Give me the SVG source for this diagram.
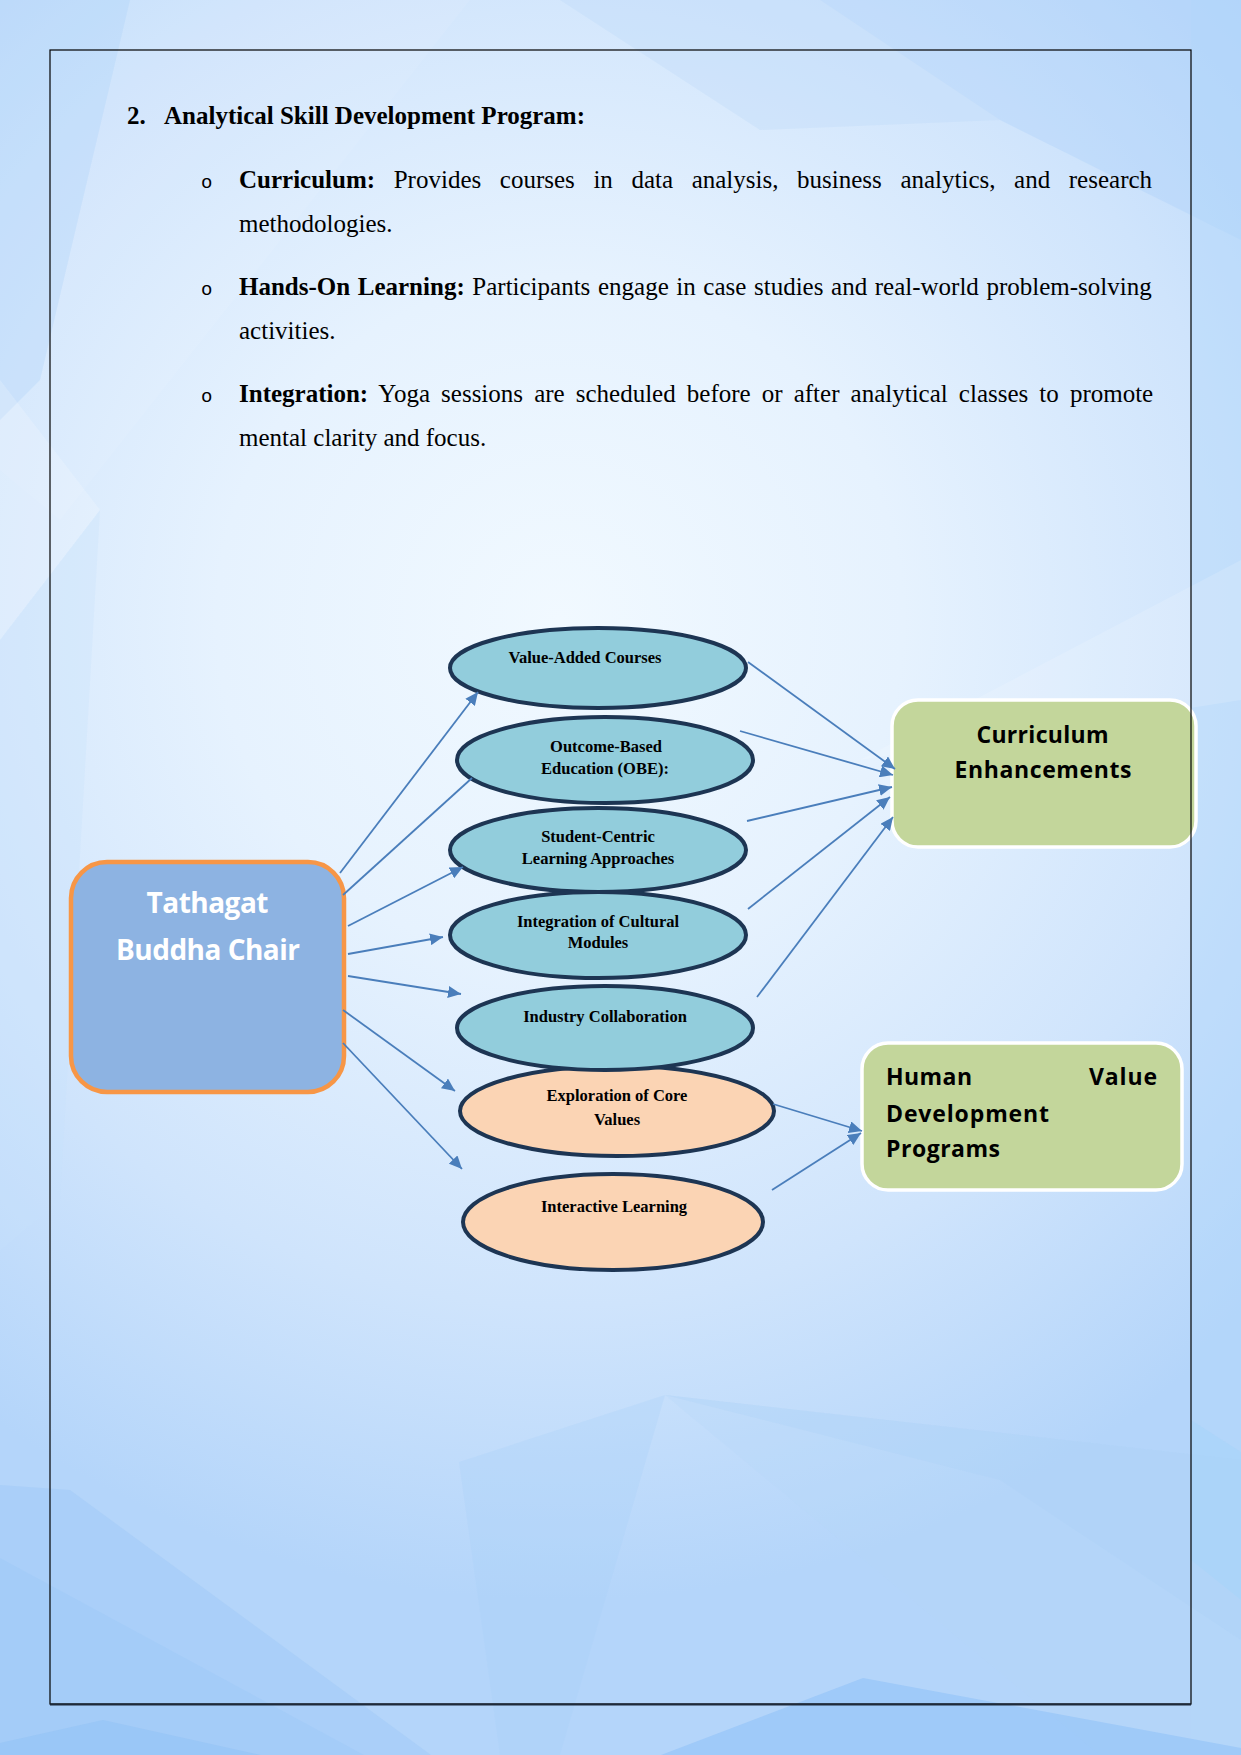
<svg xmlns="http://www.w3.org/2000/svg" width="1241" height="1755" viewBox="0 0 1241 1755">
  <defs>
    <radialGradient id="bgGlow" cx="560" cy="620" r="980" gradientUnits="userSpaceOnUse">
      <stop offset="0" stop-color="#F1F9FF"/>
      <stop offset="0.35" stop-color="#E6F2FE"/>
      <stop offset="0.7" stop-color="#CFE4FC"/>
      <stop offset="1" stop-color="#B4D5FA"/>
    </radialGradient>
    <marker id="arrow" markerUnits="userSpaceOnUse" markerWidth="14" markerHeight="12" refX="13" refY="6" orient="auto">
      <path d="M0,0 L13,6 L0,12 Z" fill="#4A7EBB"/>
    </marker>
    <style>
      .body { font-family: "Liberation Serif", "Times New Roman", serif; font-size: 25px; fill: #000; }
      .b { font-weight: bold; }
      .bullet { font-family: "Liberation Mono", "Courier New", monospace; font-size: 19px; fill: #000; }
      .ell-blue { fill: #92CDDC; stroke: #1D3553; stroke-width: 4; }
      .ell-peach { fill: #FBD4B4; stroke: #1D3553; stroke-width: 4; }
      .etext { font-family: "Liberation Serif", "Times New Roman", serif; font-weight: bold; font-size: 16.5px; fill: #000; text-anchor: middle; }
      .green { fill: #C3D69B; stroke: #FFFFFF; stroke-width: 3.5; }
      .gtext { font-family: "Open Sans", "Noto Sans", sans-serif; font-weight: bold; font-size: 23px; fill: #000; }
      .conn { stroke: #4A7EBB; stroke-width: 1.8; fill: none; }
    </style>
  </defs>

  <!-- background -->
  <rect x="0" y="0" width="1241" height="1755" fill="url(#bgGlow)"/>
  <g id="facets" stroke="none">
    <polygon points="0,0 470,0 60,520 0,470" fill="#FFFFFF" opacity="0.07"/>
    <polygon points="0,0 130,0 40,380 0,420" fill="#A9CFF8" opacity="0.3"/>
    <polygon points="820,0 1241,0 1241,240 1000,120" fill="#A9CFF8" opacity="0.35"/>
    <polygon points="560,0 820,0 1000,120 760,130" fill="#B9D8FA" opacity="0.3"/>
    <polygon points="1191,0 1241,0 1241,1755 1191,1755" fill="#B2D8FA" opacity="0.45"/>
    <polygon points="1241,560 860,760 1241,700" fill="#FFFFFF" opacity="0.15"/>
    <polygon points="0,380 100,510 0,640" fill="#FFFFFF" opacity="0.18"/>
    <polygon points="0,640 100,510 60,1200 0,1250" fill="#C7E0FB" opacity="0.3"/>
    <polygon points="665,1395 459,1462 500,1755 560,1755" fill="#A9CFF8" opacity="0.3"/>
    <polygon points="665,1395 1241,1460 1241,1755 1100,1755" fill="#B5D7FA" opacity="0.3"/>
    <polygon points="665,1395 1000,1480 1241,1640 1241,1460" fill="#A9D0F8" opacity="0.25"/>
    <polygon points="0,1485 70,1490 431,1755 0,1755" fill="#9FCAF7" opacity="0.5"/>
    <polygon points="0,1558 364,1755 0,1755" fill="#9AC7F7" opacity="0.4"/>
    <polygon points="103,1720 0,1743 0,1755 261,1755" fill="#8FC2F6" opacity="0.5"/>
    <polygon points="863,1678 1241,1748 1241,1755 661,1755" fill="#96C4F8" opacity="0.7"/>
    <polygon points="1191,1420 1241,1452 1241,1600 1191,1560" fill="#A6D4FA" opacity="0.5"/>
  </g>

  <!-- text -->
  <g id="text">
    <text class="body b" x="127" y="124">2.</text>
    <text class="body b" x="164" y="124">Analytical Skill Development Program:</text>

    <text class="bullet" x="201" y="188">o</text>
    <text class="body" x="239" y="188" word-spacing="12.35"><tspan class="b">Curriculum:</tspan> Provides courses in data analysis, business analytics, and research</text>
    <text class="body" x="239" y="231.5">methodologies.</text>

    <text class="bullet" x="201" y="295">o</text>
    <text class="body" x="239" y="295" word-spacing="1.35"><tspan class="b">Hands-On Learning:</tspan> Participants engage in case studies and real-world problem-solving</text>
    <text class="body" x="239" y="338.5">activities.</text>

    <text class="bullet" x="201" y="402">o</text>
    <text class="body" x="239" y="402" word-spacing="4.85"><tspan class="b">Integration:</tspan> Yoga sessions are scheduled before or after analytical classes to promote</text>
    <text class="body" x="239" y="445.5">mental clarity and focus.</text>
  </g>

  <!-- nodes -->
  <g id="node-tathagat">
    <rect x="71" y="862" width="273" height="230" rx="36" ry="36" fill="#8DB3E2" stroke="#F79646" stroke-width="4.5"/>
    <text x="207.5" y="913" font-family="Open Sans, Noto Sans, sans-serif" font-weight="bold" font-size="28" fill="#FFFFFF" text-anchor="middle" textLength="122" lengthAdjust="spacing">Tathagat</text>
    <text x="208" y="960" font-family="Open Sans, Noto Sans, sans-serif" font-weight="bold" font-size="28" fill="#FFFFFF" text-anchor="middle" textLength="184" lengthAdjust="spacing">Buddha Chair</text>
  </g>

  <g id="node-value-added">
    <ellipse class="ell-blue" cx="598" cy="668" rx="148" ry="40"/>
    <text class="etext" x="585" y="663">Value-Added Courses</text>
  </g>
  <g id="node-obe">
    <ellipse class="ell-blue" cx="605" cy="760" rx="148" ry="43"/>
    <text class="etext" x="606" y="752">Outcome-Based</text>
    <text class="etext" x="605" y="774">Education (OBE):</text>
  </g>
  <g id="node-student-centric">
    <ellipse class="ell-blue" cx="598" cy="850" rx="148" ry="42"/>
    <text class="etext" x="598" y="842">Student-Centric</text>
    <text class="etext" x="598" y="864">Learning Approaches</text>
  </g>
  <g id="node-cultural">
    <ellipse class="ell-blue" cx="598" cy="935" rx="148" ry="43"/>
    <text class="etext" x="598" y="927">Integration of Cultural</text>
    <text class="etext" x="598" y="948">Modules</text>
  </g>
  <g id="node-interactive">
    <ellipse class="ell-peach" cx="613" cy="1222" rx="150" ry="48"/>
    <text class="etext" x="614" y="1212">Interactive Learning</text>
  </g>
  <g id="node-core-values">
    <ellipse class="ell-peach" cx="617" cy="1111" rx="157" ry="45"/>
    <text class="etext" x="617" y="1101" font-size="18">Exploration of Core</text>
    <text class="etext" x="617" y="1125" font-size="18">Values</text>
  </g>
  <g id="node-industry">
    <ellipse class="ell-blue" cx="605" cy="1028" rx="148" ry="42"/>
    <text class="etext" x="605" y="1022">Industry Collaboration</text>
  </g>

  <g id="node-curriculum">
    <rect class="green" x="892" y="700" width="304" height="147" rx="26" ry="26"/>
    <text class="gtext" x="1042.5" y="743" text-anchor="middle" textLength="132" lengthAdjust="spacing">Curriculum</text>
    <text class="gtext" x="1043" y="778" text-anchor="middle" textLength="177" lengthAdjust="spacing">Enhancements</text>
  </g>
  <g id="node-human-value">
    <rect class="green" x="862" y="1043" width="320" height="147" rx="26" ry="26"/>
    <text class="gtext" x="886" y="1085" textLength="86" lengthAdjust="spacing">Human</text>
    <text class="gtext" x="1157" y="1085" text-anchor="end" textLength="68" lengthAdjust="spacing">Value</text>
    <text class="gtext" x="886" y="1122" textLength="163" lengthAdjust="spacing">Development</text>
    <text class="gtext" x="886" y="1157" textLength="114" lengthAdjust="spacing">Programs</text>
  </g>

  <!-- connectors -->
  <g id="connectors">
    <line class="conn" x1="340" y1="873" x2="478" y2="692" marker-end="url(#arrow)"/>
    <line class="conn" x1="343" y1="895" x2="472" y2="778"/>
    <line class="conn" x1="348" y1="926" x2="463" y2="867" marker-end="url(#arrow)"/>
    <line class="conn" x1="348" y1="954" x2="443" y2="937" marker-end="url(#arrow)"/>
    <line class="conn" x1="348" y1="976" x2="461" y2="994" marker-end="url(#arrow)"/>
    <line class="conn" x1="343" y1="1010" x2="455" y2="1091" marker-end="url(#arrow)"/>
    <line class="conn" x1="343" y1="1043" x2="462" y2="1169" marker-end="url(#arrow)"/>
    <line class="conn" x1="748" y1="662" x2="895" y2="769" marker-end="url(#arrow)"/>
    <line class="conn" x1="740" y1="731" x2="893" y2="775" marker-end="url(#arrow)"/>
    <line class="conn" x1="747" y1="821" x2="892" y2="787" marker-end="url(#arrow)"/>
    <line class="conn" x1="748" y1="909" x2="890" y2="797" marker-end="url(#arrow)"/>
    <line class="conn" x1="757" y1="997" x2="893" y2="817" marker-end="url(#arrow)"/>
    <line class="conn" x1="773" y1="1104" x2="862" y2="1131" marker-end="url(#arrow)"/>
    <line class="conn" x1="772" y1="1190" x2="861" y2="1133" marker-end="url(#arrow)"/>
  </g>

  <!-- page border -->
  <rect x="50" y="50" width="1141" height="1654" fill="none" stroke="#000000" stroke-width="1.2"/>
  <line x1="50" y1="1704.5" x2="1191" y2="1704.5" stroke="#1E2A3A" stroke-width="2"/>
</svg>
